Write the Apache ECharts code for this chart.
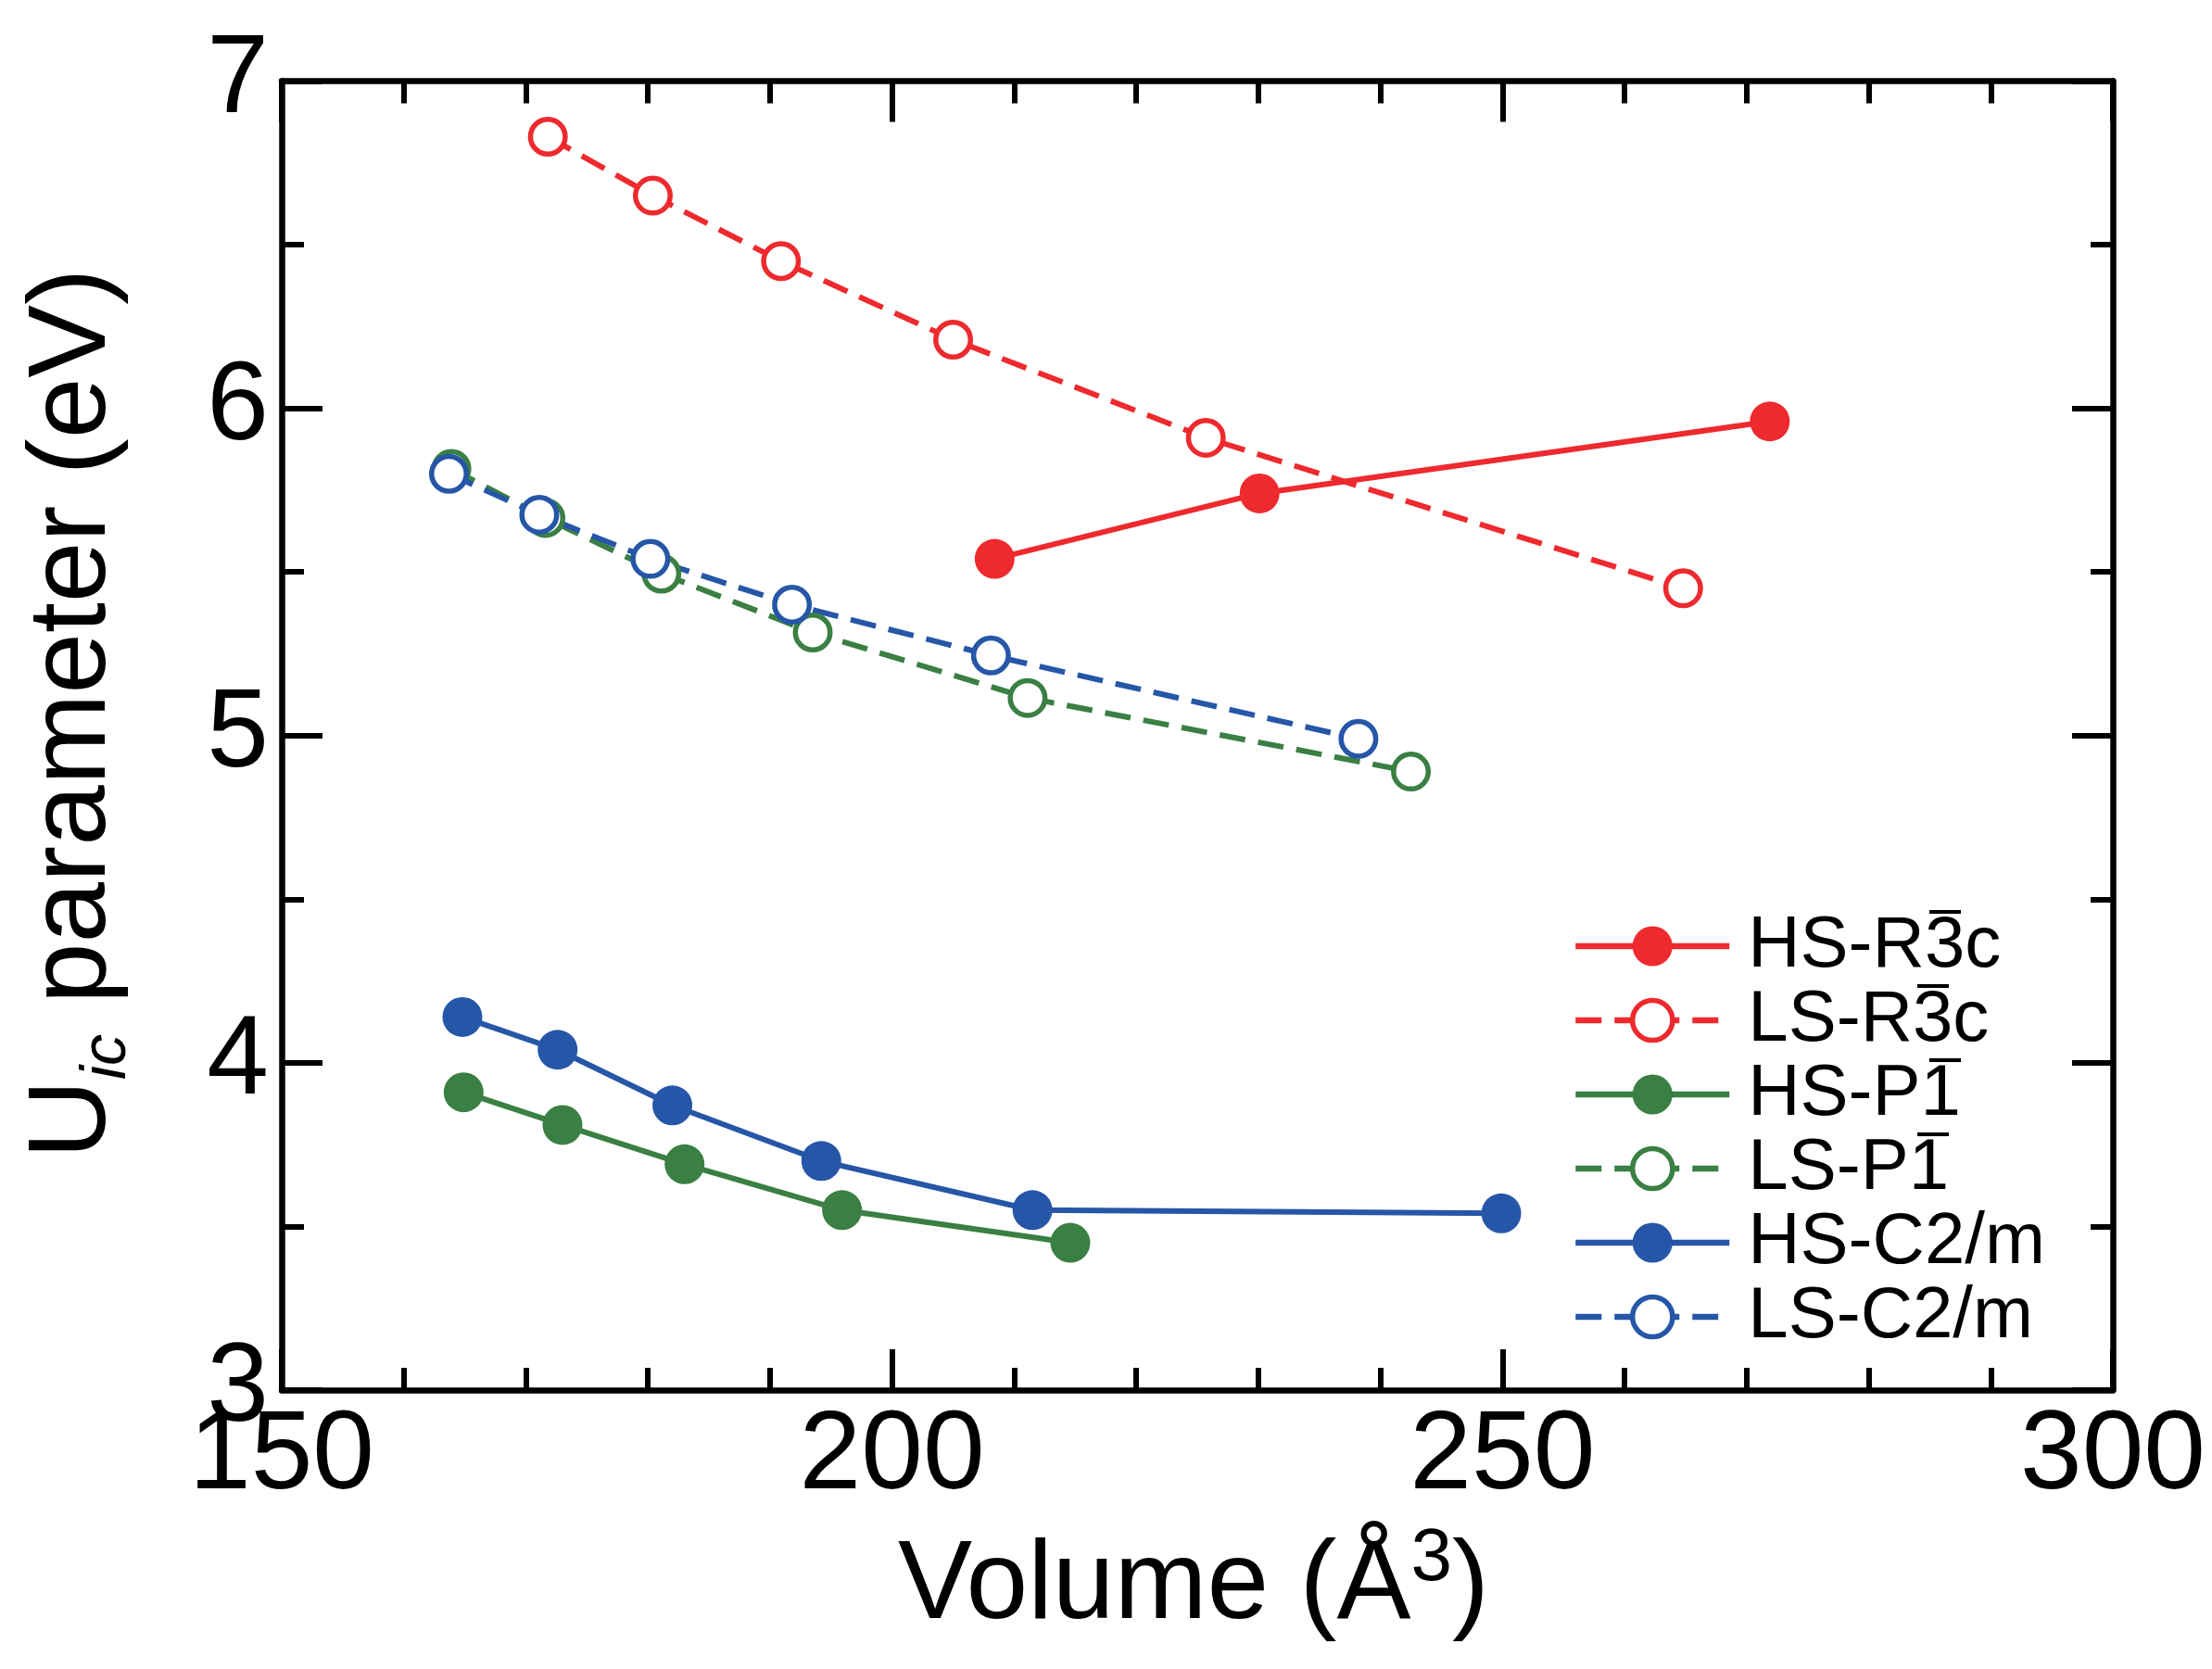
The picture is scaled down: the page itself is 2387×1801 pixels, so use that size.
<!DOCTYPE html>
<html>
<head>
<meta charset="utf-8">
<script src="https://cdn.jsdelivr.net/npm/echarts@6/dist/echarts.min.js"></script>
<style>
html,body{margin:0;padding:0;background:#fff;}
#chart{width:2387px;height:1801px;}
</style>
</head>
<body>
<div id="chart"></div>
<script>
// ---- data ----
const seriesNames = ['HS-R3c', 'LS-R3c', 'HS-P1', 'LS-P1', 'HS-C2/m', 'LS-C2/m'];
// the character carrying an overline (bar notation) in each legend label
const barredChar = ['3', '3', '1', '1', null, null];

const hsR3c_x = [208.4, 230.1, 271.9];
const hsR3c_y = [5.54, 5.74, 5.96];

const lsR3c_x = [171.8, 180.4, 190.9, 205.0, 225.7, 264.8];
const lsR3c_y = [6.83, 6.65, 6.45, 6.21, 5.91, 5.45];

const hsP1_x = [164.9, 173.0, 183.0, 195.9, 214.6];
const hsP1_y = [3.91, 3.81, 3.69, 3.55, 3.45];

const lsP1_x = [163.9, 171.6, 181.1, 193.5, 211.1, 242.5];
const lsP1_y = [5.815, 5.665, 5.495, 5.315, 5.115, 4.89];

const hsC2m_x = [164.8, 172.6, 182.0, 194.2, 211.5, 249.9];
const hsC2m_y = [4.14, 4.04, 3.87, 3.70, 3.55, 3.54];

const lsC2m_x = [163.7, 171.1, 180.2, 191.8, 208.1, 238.2];
const lsC2m_y = [5.80, 5.675, 5.54, 5.40, 5.245, 4.99];

const xTicks = [150, 200, 250, 300];
const yTicks = [3, 4, 5, 6, 7];

// ---- styling ----
const RED = '#EE2A2E', GREEN = '#3A7F43', BLUE = '#2656A7';
const FONT = '"Liberation Sans", Arial, Helvetica, sans-serif';
const LW = 6;
const DASH = [28, 14];
const AXW = 6.5;
const LEG_FS = 78, LEG_LH = 80;

function pairs(xs, ys) { return xs.map((x, i) => [x, ys[i]]); }

function mk(name, xs, ys, color, open) {
  return {
    name: name,
    type: 'line',
    data: pairs(xs, ys),
    symbol: 'circle',
    symbolSize: open ? 37.5 : 43,
    smooth: false,
    lineStyle: { color: color, width: LW, type: open ? DASH : 'solid' },
    itemStyle: open ? { color: '#ffffff', borderColor: color, borderWidth: 5.5 }
                    : { color: color, borderColor: color, borderWidth: 0 },
    emphasis: { disabled: true },
    animation: false,
    z: 3
  };
}

// overline decoration drawn as the background of the barred character's rich-text token
function makeBarCanvas(w, h, x0, x1, y0, y1) {
  const c = document.createElement('canvas');
  c.width = Math.round(w * 4); c.height = Math.round(h * 4);
  const ctx = c.getContext('2d');
  ctx.fillStyle = '#000';
  ctx.fillRect(x0 * 4, y0 * 4, (x1 - x0) * 4, (y1 - y0) * 4);
  return c;
}
const TOKW = 0.556 * LEG_FS;
const bar3 = makeBarCanvas(TOKW, LEG_LH, 5, 39, 0, 4.5);
const bar1 = makeBarCanvas(TOKW, LEG_LH, 9, 43, 0, 4.5);

function legendFormatter(name) {
  const i = seriesNames.indexOf(name);
  const ch = barredChar[i];
  if (!ch) return '{t|' + name + '}';
  const k = name.lastIndexOf(ch);
  const tag = ch === '3' ? 'o3' : 'o1';
  return '{t|' + name.slice(0, k) + '}{' + tag + '|' + ch + '}' + (k + 1 < name.length ? '{t|' + name.slice(k + 1) + '}' : '');
}

const chart = echarts.init(document.getElementById('chart'), null, { renderer: 'canvas' });

const commonAxisLine = { show: true, onZero: false, lineStyle: { color: '#000', width: AXW } };
const commonTick = { show: true, inside: true, length: 44, lineStyle: { color: '#000', width: 6 } };
const commonMinor = { show: true, splitNumber: 5, length: 24, lineStyle: { color: '#000', width: 6 } };

const tokBase = { fontSize: LEG_FS, fontFamily: FONT, lineHeight: LEG_LH, color: '#000' };

const option = {
  backgroundColor: '#fff',
  animation: false,
  grid: { left: 304, right: 107, top: 87.5, bottom: 301, containLabel: false },
  xAxis: [
    {
      type: 'value', min: xTicks[0], max: xTicks[xTicks.length - 1], interval: 50,
      position: 'bottom',
      axisLine: commonAxisLine,
      axisTick: commonTick,
      minorTick: commonMinor,
      splitLine: { show: false },
      axisLabel: { show: true, margin: 13, fontSize: 120, fontFamily: FONT, color: '#000' }
    },
    {
      type: 'value', min: xTicks[0], max: xTicks[xTicks.length - 1], interval: 50,
      position: 'top',
      axisLine: commonAxisLine,
      axisTick: commonTick,
      minorTick: commonMinor,
      splitLine: { show: false },
      axisLabel: { show: false }
    }
  ],
  yAxis: [
    {
      type: 'value', min: yTicks[0], max: yTicks[yTicks.length - 1], interval: 1,
      position: 'left',
      axisLine: commonAxisLine,
      axisTick: commonTick,
      minorTick: Object.assign({}, commonMinor, { splitNumber: 2 }),
      splitLine: { show: false },
      axisLabel: { show: true, margin: 14, fontSize: 120, fontFamily: FONT, color: '#000' }
    },
    {
      type: 'value', min: yTicks[0], max: yTicks[yTicks.length - 1], interval: 1,
      position: 'right',
      axisLine: commonAxisLine,
      axisTick: commonTick,
      minorTick: Object.assign({}, commonMinor, { splitNumber: 2 }),
      splitLine: { show: false },
      axisLabel: { show: false }
    }
  ],
  legend: {
    show: true,
    orient: 'vertical',
    left: 1697,
    top: 981,
    itemWidth: 166,
    itemHeight: 54,
    itemGap: 0,
    padding: 0,
    selectedMode: false,
    formatter: legendFormatter,
    lineStyle: { width: 6.5 },
    itemStyle: { borderWidth: 'inherit' },
    textStyle: {
      fontSize: LEG_FS, fontFamily: FONT, color: '#000', lineHeight: LEG_LH, padding: [0, 0, 0, 15],
      rich: {
        t: tokBase,
        o3: Object.assign({}, tokBase, { width: TOKW, align: 'center', backgroundColor: { image: bar3 } }),
        o1: Object.assign({}, tokBase, { width: TOKW, align: 'center', backgroundColor: { image: bar1 } })
      }
    },
    data: seriesNames
  },
  series: [
    mk(seriesNames[0], hsR3c_x, hsR3c_y, RED, false),
    mk(seriesNames[1], lsR3c_x, lsR3c_y, RED, true),
    mk(seriesNames[2], hsP1_x, hsP1_y, GREEN, false),
    mk(seriesNames[3], lsP1_x, lsP1_y, GREEN, true),
    mk(seriesNames[4], hsC2m_x, hsC2m_y, BLUE, false),
    mk(seriesNames[5], lsC2m_x, lsC2m_y, BLUE, true)
  ],
  graphic: [
    {
      type: 'text',
      x: 80, y: 770,
      rotation: Math.PI / 2,
      style: {
        text: '{a|U}{b|ic}{a| parameter (eV)}',
        align: 'center', verticalAlign: 'middle',
        textAlign: 'center', textVerticalAlign: 'middle',
        fill: '#000',
        font: '118px ' + FONT,
        rich: {
          a: { fontSize: 118, fontFamily: FONT, lineHeight: 140, fill: '#000' },
          b: { fontSize: 68, fontFamily: FONT, fontStyle: 'italic', lineHeight: 30, verticalAlign: 'bottom', fill: '#000' }
        }
      }
    },
    {
      type: 'text',
      x: 1288, y: 1713,
      style: {
        text: '{a|Volume (Å}{b|3}{a|)}',
        align: 'center', verticalAlign: 'middle',
        textAlign: 'center', textVerticalAlign: 'middle',
        fill: '#000',
        font: '120px ' + FONT,
        rich: {
          a: { fontSize: 120, fontFamily: FONT, lineHeight: 140, fill: '#000' },
          b: { fontSize: 80, fontFamily: FONT, lineHeight: 40, verticalAlign: 'top', fill: '#000' }
        }
      }
    }
  ]
};

chart.setOption(option);
</script>
</body>
</html>
